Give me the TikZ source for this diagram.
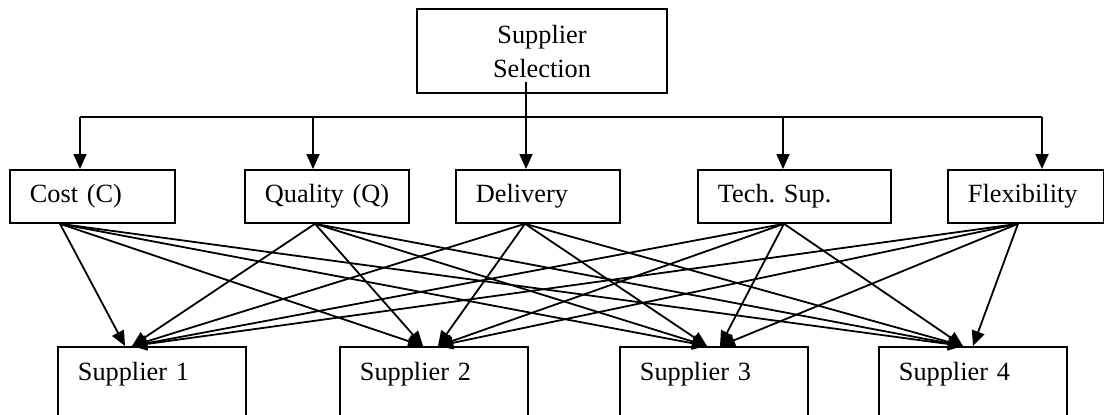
\documentclass[tikz,border=0pt]{standalone}
\usepackage{fontspec}
\setmainfont{Liberation Serif}
\usetikzlibrary{arrows.meta}
\frenchspacing

\begin{document}
\begin{tikzpicture}[x=0.5pt, y=-0.5pt, line width=0.9pt,
  >={Triangle[length=7.5pt,width=6.5pt]},
  box/.style={draw, line width=0.9pt, font=\fontsize{13.15}{17}\selectfont},
  crit/.style={box, anchor=north west, align=left, inner xsep=10pt, minimum height=26.5pt},
  supp/.style={box, anchor=north west, align=left, inner xsep=10pt, inner ysep=7.5pt,
    text width=74pt, text depth=40pt}]
  \useasboundingbox (0,0) rectangle (1104,414);
  \node[box, align=center, minimum width=125pt, minimum height=42pt] (sel) at (542,51) {Supplier\\Selection};
  \node[crit, text width=62.5pt] (c1) at (9,169) {Cost (C)};
  \node[crit, text width=62pt] (c2) at (244,169) {Quality~(Q)};
  \node[crit, text width=62pt] (c3) at (455,169) {Delivery};
  \node[crit, text width=76.5pt] (c4) at (697,169) {Tech. Sup.};
  \node[crit, text width=58pt] (c5) at (947,169) {Flexibility};
  \node[supp] (s1) at (57,346) {Supplier 1};
  \node[supp] (s2) at (339,346) {Supplier 2};
  \node[supp] (s3) at (619,346) {Supplier 3};
  \node[supp] (s4) at (878,346) {Supplier 4};
  \coordinate (bus) at (0,117);
  \foreach \i/\a/\b in {1/71/51, 2/69/71, 3/71/70, 4/86/87, 5/95/71} {
    \path (c\i.north west) ++(\a,0) coordinate (t\i);
    \path (c\i.south west) ++(\b,0) coordinate (o\i);
  }
  \foreach \i/\a/\b in {1/68/75, 2/84/99, 3/88/101, 4/85/95} {
    \path (s\i.north west) ++(\a,0) coordinate (l\i);
    \path (s\i.north west) ++(\b,0) coordinate (r\i);
  }
  \path (t3 |- sel.south) ++(0,-12) coordinate (stem);
  \draw (stem) -- (t3 |- bus);
  \draw (t1 |- bus) -- (t5 |- bus);
  \foreach \i in {1,...,5}
    \draw[->] (t\i |- bus) -- (t\i);
  \foreach \s in {1,...,4}
    \foreach \c in {1,...,5} {
      \ifnum\c>\s \draw[->] (o\c) -- (r\s); \else \draw[->] (o\c) -- (l\s); \fi
    }
\end{tikzpicture}
\end{document}
